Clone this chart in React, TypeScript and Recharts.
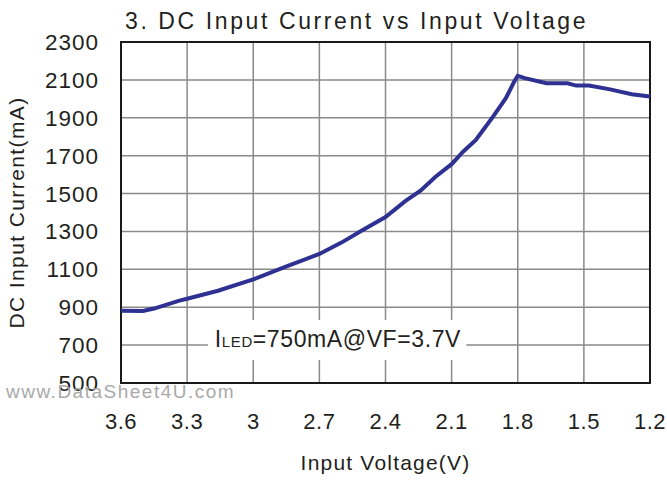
import { CartesianGrid, Label, Line, LineChart, ReferenceArea, XAxis, YAxis } from 'recharts'

// input voltage falling from 3.6V to 1.2V
const VOLTAGE = [
  3.6, 3.5, 3.45, 3.335, 3.3, 3.16, 3.0, 2.852, 2.7, 2.6, 2.503, 2.4, 2.309, 2.241, 2.173,
  2.1, 2.048, 1.99, 1.951, 1.912, 1.854, 1.816, 1.8, 1.768, 1.67, 1.574, 1.535, 1.477, 1.381,
  1.283, 1.2,
]
const CURRENT = [
  882, 880, 893, 935, 945, 987, 1047, 1114, 1181, 1241, 1308, 1376, 1461, 1515, 1589,
  1655, 1721, 1783, 1845, 1906, 2003, 2091, 2121, 2109, 2082, 2082, 2070, 2070, 2050,
  2024, 2012,
]
const X_TICKS = [3.6, 3.3, 3, 2.7, 2.4, 2.1, 1.8, 1.5, 1.2]
const Y_TICKS = [500, 700, 900, 1100, 1300, 1500, 1700, 1900, 2100, 2300]

const FONT = '"Liberation Sans", Arial, sans-serif'
const INK = '#231f20'

const data = VOLTAGE.map((v, i) => ({ v, ma: CURRENT[i] }))

function NoteLabel({ viewBox }: any) {
  const { x, y } = viewBox
  return (
    <text x={x + 7} y={y + 27} fill={INK} fontFamily={FONT} fontSize={23} style={{ letterSpacing: 0.6 }}>
      <tspan>I</tspan>
      <tspan fontSize={15}>LED</tspan>
      <tspan>=750mA@VF=3.7V</tspan>
    </text>
  )
}

export default function App() {
  return (
    <div style={{ position: 'absolute', left: 0, top: 0, width: 667, height: 481, background: '#fff' }}>
      <div style={{
        position: 'absolute', left: 125, top: 6, fontFamily: FONT, fontSize: 23, color: INK,
        letterSpacing: 2.6, whiteSpace: 'nowrap', lineHeight: '30px',
      }}>
        3. DC Input Current vs Input Voltage
      </div>
      <LineChart width={667} height={481} data={data} margin={{ top: 42, right: 17, bottom: 0, left: 0 }}>
        <CartesianGrid stroke="#8a8a8a" strokeWidth={1.5} />
        <XAxis
          dataKey="v" type="number" domain={[1.2, 3.6]} reversed ticks={X_TICKS}
          height={98} tickSize={0} tickMargin={30} axisLine={false}
          tick={{ fill: INK, fontSize: 22, fontFamily: FONT, letterSpacing: 0.5 }}
        >
          <Label value="Input Voltage(V)" position="insideBottom" offset={11}
                 style={{ fill: INK, fontSize: 21, fontFamily: FONT, letterSpacing: 1.2 }} />
        </XAxis>
        <YAxis
          type="number" domain={[500, 2300]} ticks={Y_TICKS} width={121}
          tickSize={0} tickMargin={22} axisLine={false}
          tick={{ fill: INK, fontSize: 22.5, fontFamily: FONT, letterSpacing: 1 }}
        >
          <Label value="DC Input Current(mA)" angle={-90} position="insideLeft" offset={17}
                 style={{ textAnchor: 'middle', fill: INK, fontSize: 21, fontFamily: FONT, letterSpacing: 1.4 }} />
        </YAxis>
        <ReferenceArea x1={3.206} x2={2.033} y1={621} y2={833} fill="#fff" fillOpacity={1} stroke="none"
                       label={<NoteLabel />} />
        <ReferenceArea x1={3.6} x2={1.2} y1={500} y2={2300} fill="none" stroke="#1a1a1a" strokeWidth={2} />
        <Line dataKey="ma" type="linear" stroke="#2e3192" strokeWidth={4} dot={false} isAnimationActive={false} />
      </LineChart>
      <div style={{
        position: 'absolute', left: 6, top: 380, fontFamily: FONT, fontSize: 19, color: '#a9a9a9',
        letterSpacing: 1.5, whiteSpace: 'nowrap', lineHeight: '24px',
      }}>
        www.DataSheet4U.com
      </div>
    </div>
  )
}
